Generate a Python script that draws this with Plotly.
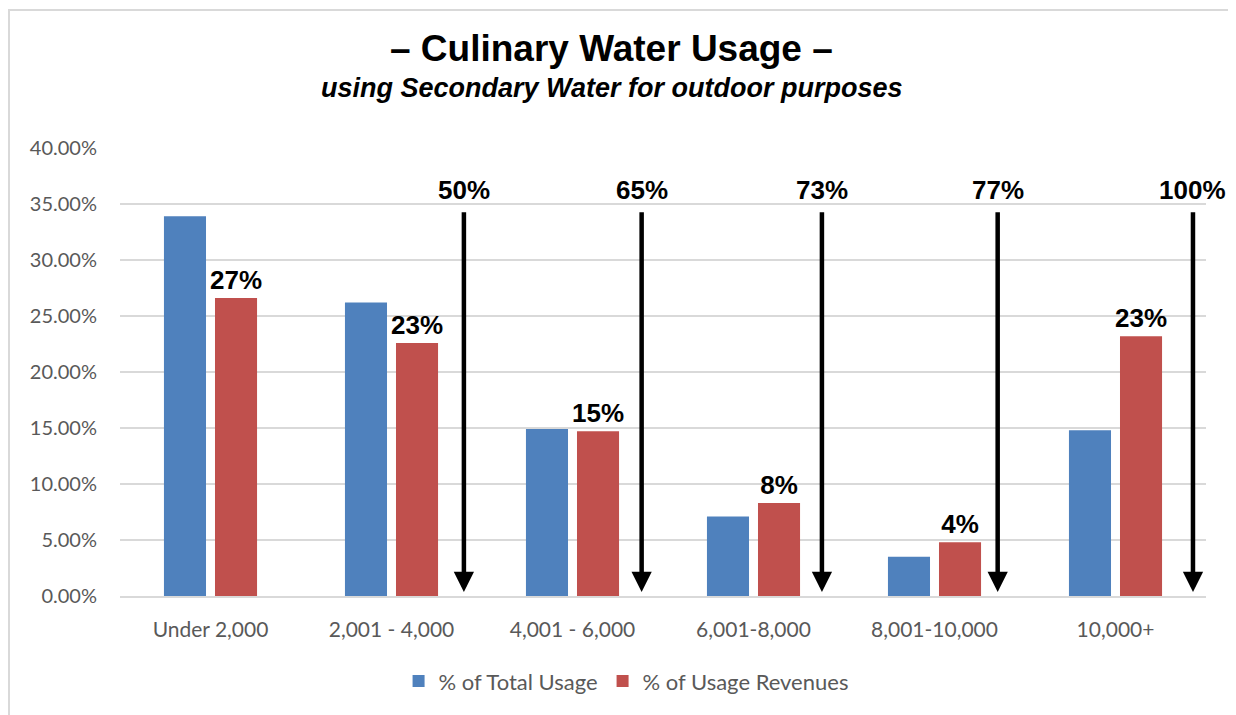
import plotly.graph_objects as go

categories = ["Under 2,000", "2,001 - 4,000", "4,001 - 6,000", "6,001-8,000", "8,001-10,000", "10,000+"]
total_usage = [0.339, 0.262, 0.149, 0.071, 0.035, 0.148]
usage_revenues = [0.266, 0.226, 0.147, 0.083, 0.048, 0.232]
revenue_labels = ["27%", "23%", "15%", "8%", "4%", "23%"]
cumulative_labels = ["50%", "65%", "73%", "77%", "100%"]
arrow_x = [1.40, 2.382, 3.378, 4.349, 5.428]
y_ticks = [0, 0.05, 0.10, 0.15, 0.20, 0.25, 0.30, 0.35, 0.40]

BLUE = "#4F81BD"
RED = "#C0504D"
GRAY_TXT = "#595959"
TICK_FONT = "Lato, Carlito, Calibri, sans-serif"
BOLD_FONT = "Liberation Sans, Arial, sans-serif"

fig = go.Figure()
fig.add_bar(name="% of Total Usage", x=categories, y=total_usage,
            marker=dict(color=BLUE, line=dict(width=0)))
fig.add_bar(name="% of Usage Revenues", x=categories, y=usage_revenues,
            marker=dict(color=RED, line=dict(width=0)),
            text=revenue_labels, textposition="outside", cliponaxis=False,
            constraintext="none",
            textfont=dict(family=BOLD_FONT, size=26, color="black", weight="bold"))

annotations = []
for xa, lab in zip(arrow_x, cumulative_labels):
    annotations.append(dict(x=xa, y=0.0035, ax=xa, ay=0.344, xref="x", yref="y",
                            axref="x", ayref="y", text="", showarrow=True,
                            arrowhead=2, arrowsize=0.9, arrowwidth=4.5,
                            arrowcolor="black", standoff=0, startstandoff=0))
    annotations.append(dict(x=xa, y=0.344, xref="x", yref="y", text=lab,
                            showarrow=False, yanchor="bottom", yshift=4,
                            font=dict(family=BOLD_FONT, size=26, color="black", weight="bold")))

annotations.append(dict(x=0.453, y=1.223, xref="paper", yref="paper",
                        text="<b>– Culinary Water Usage –</b>", showarrow=False,
                        xanchor="center", yanchor="middle",
                        font=dict(family=BOLD_FONT, size=37, color="black")))
annotations.append(dict(x=0.453, y=1.134, xref="paper", yref="paper",
                        text="<b><i>using Secondary Water for outdoor purposes</i></b>",
                        showarrow=False, xanchor="center", yanchor="middle",
                        font=dict(family=BOLD_FONT, size=27, color="black")))

fig.update_layout(
    width=1228, height=707,
    margin=dict(l=112, r=30, t=140, b=119, autoexpand=False),
    paper_bgcolor="white", plot_bgcolor="white",
    barmode="group", bargap=0.436, bargroupgap=0.176,
    showlegend=True,
    legend=dict(orientation="h", x=0.466, xanchor="center", y=-0.19, yanchor="middle",
                font=dict(family=TICK_FONT, size=22, color=GRAY_TXT),
                itemwidth=30, traceorder="normal"),
    annotations=annotations,
    shapes=[dict(type="rect", xref="paper", yref="paper",
                 x0=-0.1022, x1=1.0249, y0=-0.28, y1=1.308,
                 line=dict(color="#D9D9D9", width=2), fillcolor="rgba(0,0,0,0)", layer="below")],
)
fig.update_yaxes(range=[0, 0.40], tickvals=y_ticks, tickformat=".2%",
                 showgrid=True, gridcolor="#D9D9D9", gridwidth=1.5,
                 zeroline=False, showline=False, ticks="", ticklabelstandoff=22,
                 tickfont=dict(family=TICK_FONT, size=20, color=GRAY_TXT))
fig.update_xaxes(range=[-0.5, 5.5], autorange=False,
                 showgrid=False, showline=True, linecolor="#D9D9D9", linewidth=1.5,
                 ticks="", ticklabelstandoff=14,
                 tickfont=dict(family=TICK_FONT, size=21, color=GRAY_TXT))

fig.write_html("out.html")
